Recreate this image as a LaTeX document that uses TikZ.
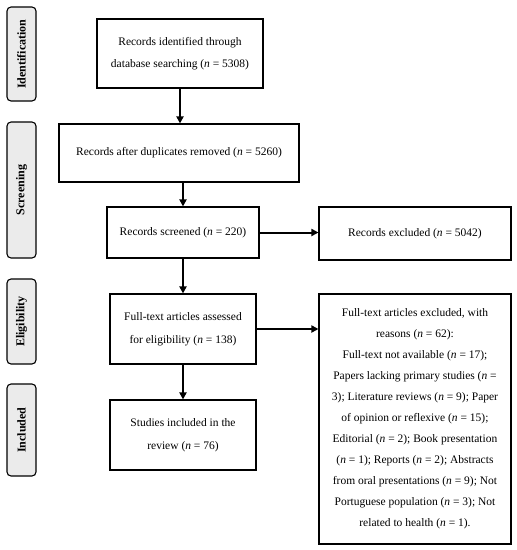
\documentclass[tikz,border=0pt]{standalone}
\usepackage{fontspec}
\setmainfont{Liberation Serif}
\usetikzlibrary{arrows.meta}
\begin{document}
\begin{tikzpicture}[x=1pt,y=-1pt,
  box/.style={draw=black, line width=1.1pt, fill=white, inner sep=0pt, align=center,
    font=\fontsize{11.5}{22.5}\selectfont},
  stage/.style={draw=black, line width=1.1pt, fill=black!8, rounded corners=4pt, inner sep=0pt,
    minimum width=29pt},
  stagetext/.style={rotate=90, font=\fontsize{12}{13}\selectfont\bfseries},
  arr/.style={line width=2pt, -{Triangle[length=7pt,width=7pt]}}]
\useasboundingbox (0,0) rectangle (517,550);
% stage labels
\node[stage, minimum height=94pt] (s1) at (21.5,54) {};
\node[stagetext] (t1) at (s1.center) {Identification};
\node[stage, minimum height=136pt] (s2) at (21.5,190) {};
\node[stagetext] (t2) at (s2.center) {Screening};
\node[stage, minimum height=85pt] (s3) at (21.5,321.5) {};
\node[stagetext] (t3) at (s3.center) {Eligibility};
\node[stage, minimum height=92pt] (s4) at (21.5,430) {};
\node[stagetext] (t4) at (s4.center) {Included};
% boxes
\node[box, minimum width=166pt, minimum height=69pt] (b1) at (180,53.5)
  {Records identified through\\database searching (\textit{n} = 5308)};
\node[box, minimum width=240pt, minimum height=58pt] (b2) at (179,153)
  {Records after duplicates removed (\textit{n} = 5260)};
\node[box, minimum width=152pt, minimum height=51pt] (b3) at (183,232.5)
  {Records screened (\textit{n} = 220)};
\node[box, minimum width=192pt, minimum height=53pt] (b6) at (415,233.5)
  {Records excluded (\textit{n} = 5042)};
\node[box, minimum width=146pt, minimum height=70pt] (b4) at (183,329)
  {Full-text articles assessed\\for eligibility (\textit{n} = 138)};
\node[box, minimum width=146pt, minimum height=70pt] (b5) at (183,435)
  {Studies included in the\\review (\textit{n} = 76)};
\node[box, minimum width=192pt, minimum height=250pt, font=\fontsize{11.5}{21}\selectfont] (b7) at (415,419)
  {Full-text articles excluded, with\\
   reasons (\textit{n} = 62):\\
   Full-text not available (\textit{n} = 17);\\
   Papers lacking primary studies (\textit{n} =\\
   3); Literature reviews (\textit{n} = 9); Paper\\
   of opinion or reflexive (\textit{n} = 15);\\
   Editorial (\textit{n} = 2); Book presentation\\
   (\textit{n} = 1); Reports (\textit{n} = 2); Abstracts\\
   from oral presentations (\textit{n} = 9); Not\\
   Portuguese population (\textit{n} = 3); Not\\
   related to health (\textit{n} = 1).};
% arrows
\draw[arr] (b1.south) -- (b1.south |- b2.north);
\draw[arr] (b3.north |- b2.south) -- (b3.north);
\draw[arr] (b3.south) -- (b4.north);
\draw[arr] (b4.south) -- (b5.north);
\draw[arr] (b3.east) -- (b6.west |- b3.east);
\draw[arr] (b4.east) -- (b7.west |- b4.east);
\end{tikzpicture}
\end{document}
